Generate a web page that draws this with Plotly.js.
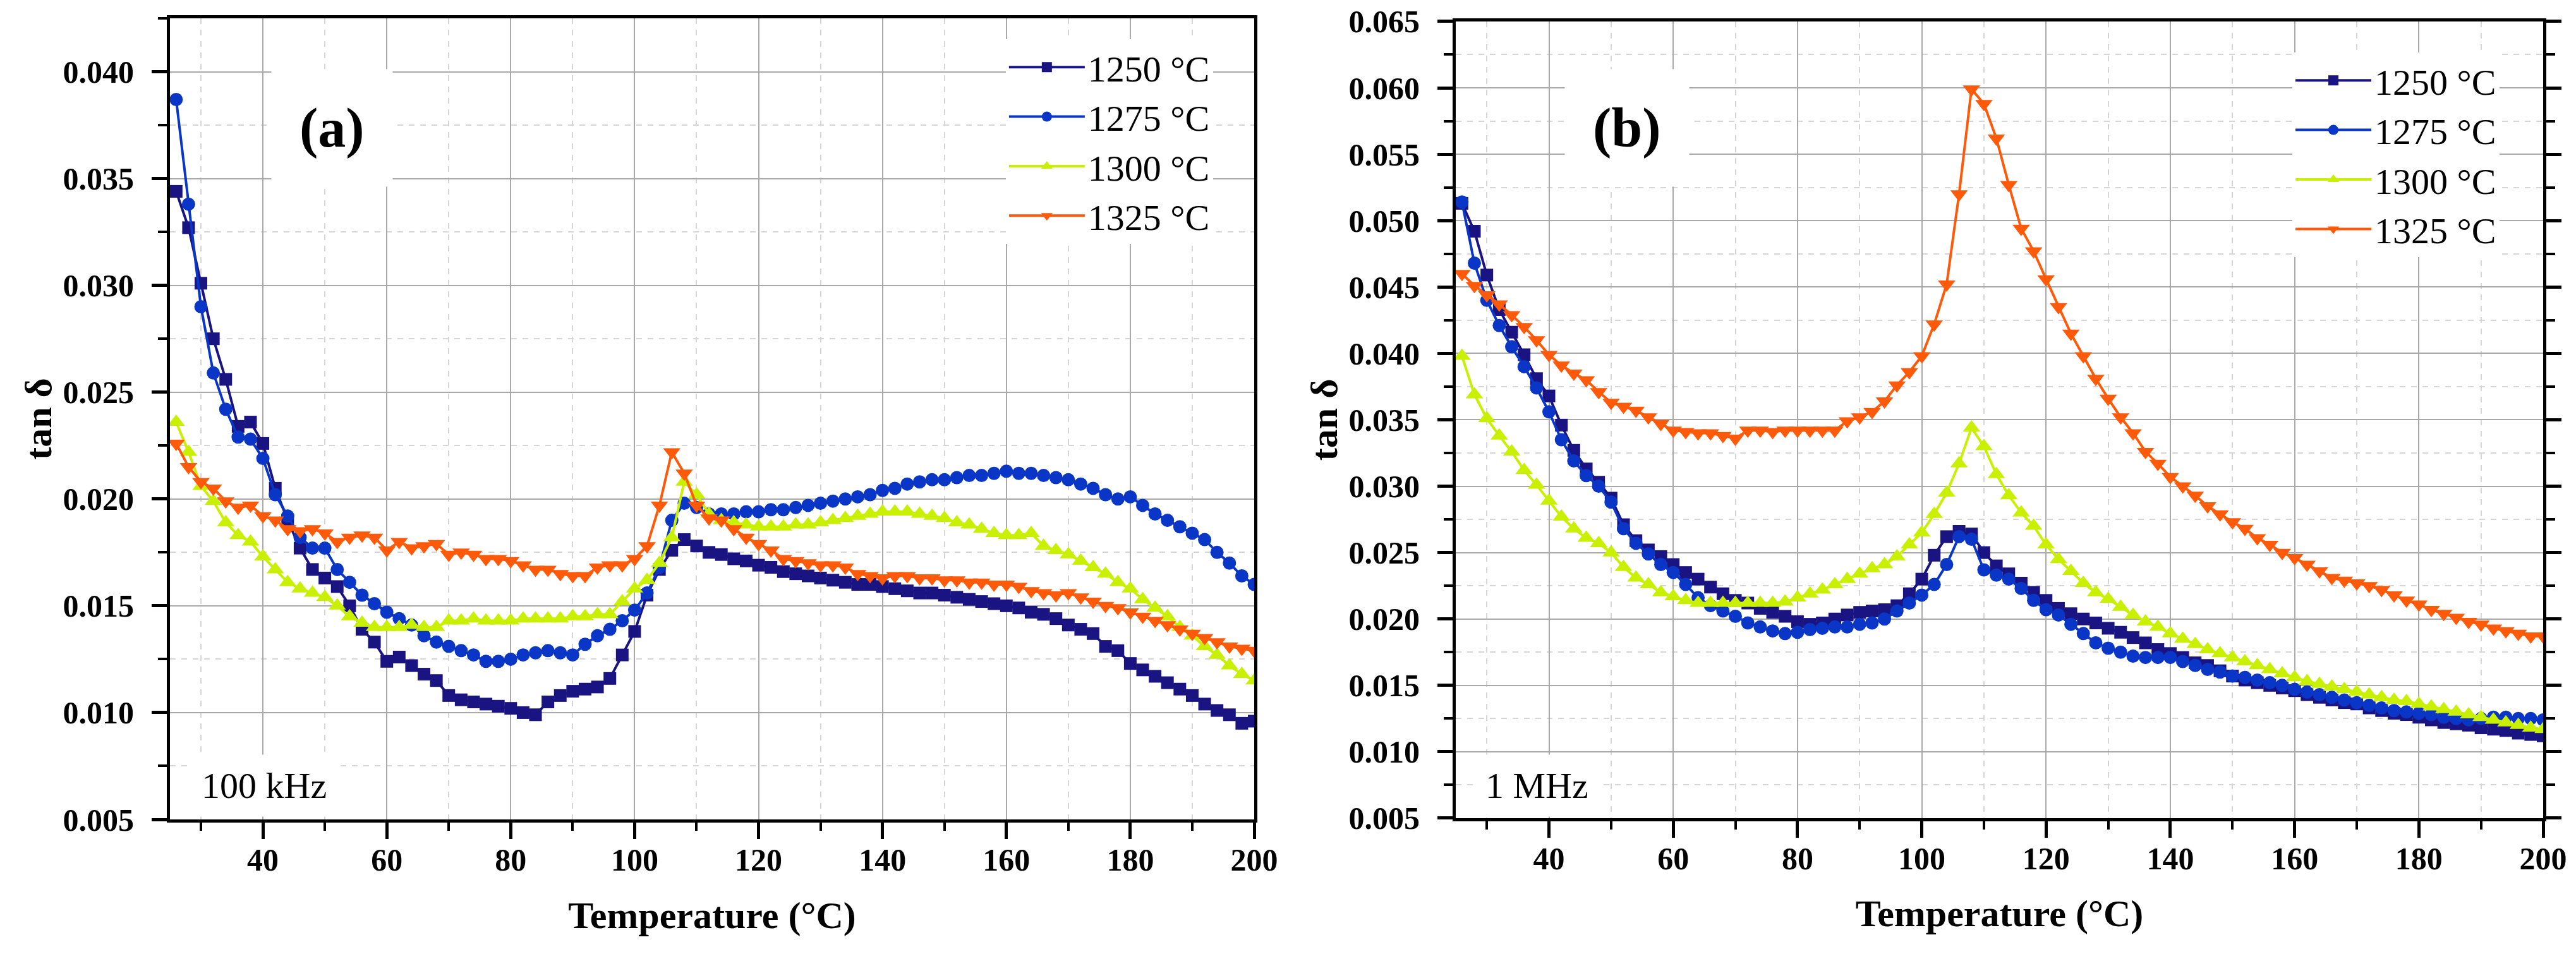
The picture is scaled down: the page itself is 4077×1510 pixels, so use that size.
<!DOCTYPE html>
<html>
<head>
<meta charset="utf-8">
<script src="https://cdn.plot.ly/plotly-3.0.1.min.js"></script>
<style>html,body{margin:0;padding:0;background:#fff;}#chart{width:4077px;height:1510px;}</style>
</head>
<body>
<div id="chart"></div>
<script>
// Temperature (°C)
const temperature = [
26,28,30,32,34,36,38,40,42,44,
46,48,50,52,54,56,58,60,62,64,
66,68,70,72,74,76,78,80,82,84,
86,88,90,92,94,96,98,100,102,104,
106,108,110,112,114,116,118,120,122,124,
126,128,130,132,134,136,138,140,142,144,
146,148,150,152,154,156,158,160,162,164,
166,168,170,172,174,176,178,180,182,184,
186,188,190,192,194,196,198,200];

const seriesNames = ['1250 °C', '1275 °C', '1300 °C', '1325 °C'];

// (a) 100 kHz
const tanD_100kHz_1250 = [
0.0344,0.0327,0.0301,0.0275,0.0256,0.0234,0.0236,0.0226,0.0205,0.0190,
0.0177,0.0167,0.0163,0.0159,0.0150,0.0139,0.0133,0.0124,0.0126,0.0122,
0.0118,0.0115,0.0108,0.0106,0.0105,0.0104,0.0103,0.0102,0.0100,0.0099,
0.0105,0.0108,0.0110,0.0111,0.0112,0.0116,0.0127,0.0138,0.0155,0.0167,
0.0176,0.0181,0.0178,0.0175,0.0174,0.0172,0.0171,0.0169,0.0168,0.0166,
0.0165,0.0164,0.0163,0.0162,0.0161,0.0160,0.0160,0.0159,0.0158,0.0157,
0.0156,0.0156,0.0155,0.0154,0.0153,0.0152,0.0151,0.0150,0.0149,0.0147,
0.0146,0.0144,0.0141,0.0139,0.0137,0.0131,0.0129,0.0123,0.0120,0.0117,
0.0114,0.0111,0.0108,0.0104,0.0101,0.0099,0.0095,0.0096];
const tanD_100kHz_1275 = [
0.0387,0.0338,0.0290,0.0259,0.0242,0.0229,0.0228,0.0219,0.0202,0.0192,
0.0182,0.0177,0.0177,0.0167,0.0161,0.0155,0.0151,0.0147,0.0144,0.0141,
0.0136,0.0133,0.0131,0.0129,0.0127,0.0124,0.0124,0.0125,0.0127,0.0128,
0.0129,0.0128,0.0127,0.0132,0.0136,0.0139,0.0143,0.0148,0.0156,0.0168,
0.0190,0.0198,0.0196,0.0193,0.0193,0.0193,0.0194,0.0194,0.0195,0.0195,
0.0196,0.0197,0.0198,0.0199,0.0200,0.0201,0.0202,0.0204,0.0205,0.0207,
0.0208,0.0209,0.0209,0.0210,0.0211,0.0211,0.0212,0.0213,0.0212,0.0212,
0.0211,0.0210,0.0209,0.0207,0.0205,0.0202,0.0200,0.0201,0.0197,0.0193,
0.0190,0.0187,0.0184,0.0181,0.0175,0.0170,0.0164,0.0160];
const tanD_100kHz_1300 = [
0.0236,0.0222,0.0206,0.0199,0.0189,0.0183,0.0180,0.0173,0.0167,0.0161,
0.0158,0.0156,0.0154,0.0150,0.0145,0.0142,0.0140,0.0140,0.0140,0.0141,
0.0140,0.0140,0.0143,0.0143,0.0144,0.0143,0.0143,0.0143,0.0144,0.0144,
0.0144,0.0144,0.0145,0.0145,0.0146,0.0146,0.0152,0.0158,0.0162,0.0170,
0.0182,0.0208,0.0202,0.0193,0.0190,0.0189,0.0188,0.0187,0.0187,0.0187,
0.0188,0.0188,0.0189,0.0190,0.0191,0.0192,0.0193,0.0194,0.0194,0.0194,
0.0193,0.0192,0.0191,0.0189,0.0188,0.0186,0.0184,0.0183,0.0183,0.0184,
0.0178,0.0176,0.0174,0.0171,0.0168,0.0165,0.0161,0.0158,0.0153,0.0149,
0.0145,0.0140,0.0136,0.0131,0.0127,0.0122,0.0118,0.0115];
const tanD_100kHz_1325 = [
0.0226,0.0215,0.0208,0.0205,0.0199,0.0196,0.0197,0.0192,0.0190,0.0186,
0.0185,0.0186,0.0184,0.0180,0.0182,0.0183,0.0182,0.0176,0.0180,0.0177,
0.0178,0.0179,0.0174,0.0175,0.0174,0.0172,0.0172,0.0171,0.0169,0.0167,
0.0167,0.0165,0.0164,0.0164,0.0168,0.0169,0.0169,0.0172,0.0178,0.0197,
0.0222,0.0212,0.0197,0.0191,0.0190,0.0186,0.0182,0.0179,0.0176,0.0172,
0.0171,0.0170,0.0169,0.0169,0.0168,0.0165,0.0164,0.0163,0.0164,0.0164,
0.0163,0.0163,0.0162,0.0162,0.0161,0.0161,0.0160,0.0160,0.0159,0.0157,
0.0156,0.0155,0.0156,0.0154,0.0152,0.0150,0.0149,0.0147,0.0145,0.0143,
0.0141,0.0139,0.0137,0.0135,0.0133,0.0131,0.0130,0.0129];

// (b) 1 MHz
const tanD_1MHz_1250 = [
0.0513,0.0492,0.0459,0.0433,0.0416,0.0399,0.0381,0.0368,0.0346,0.0327,
0.0313,0.0303,0.0291,0.0271,0.0259,0.0252,0.0247,0.0241,0.0235,0.0230,
0.0224,0.0219,0.0214,0.0212,0.0208,0.0205,0.0202,0.0198,0.0196,0.0197,
0.0200,0.0203,0.0205,0.0206,0.0207,0.0210,0.0219,0.0230,0.0248,0.0262,
0.0266,0.0264,0.0250,0.0240,0.0234,0.0227,0.0220,0.0214,0.0208,0.0204,
0.0200,0.0197,0.0193,0.0190,0.0186,0.0182,0.0177,0.0174,0.0171,0.0167,
0.0165,0.0161,0.0157,0.0154,0.0152,0.0150,0.0148,0.0146,0.0143,0.0141,
0.0139,0.0137,0.0136,0.0133,0.0131,0.0129,0.0128,0.0126,0.0124,0.0122,
0.0121,0.0120,0.0118,0.0117,0.0116,0.0114,0.0113,0.0112];
const tanD_1MHz_1275 = [
0.0514,0.0468,0.0440,0.0421,0.0405,0.0390,0.0374,0.0356,0.0335,0.0319,
0.0308,0.0300,0.0288,0.0268,0.0257,0.0249,0.0241,0.0235,0.0226,0.0216,
0.0210,0.0206,0.0202,0.0197,0.0194,0.0191,0.0189,0.0190,0.0192,0.0193,
0.0194,0.0194,0.0196,0.0197,0.0200,0.0206,0.0212,0.0218,0.0226,0.0241,
0.0262,0.0260,0.0237,0.0233,0.0230,0.0223,0.0214,0.0207,0.0203,0.0196,
0.0189,0.0182,0.0178,0.0175,0.0172,0.0171,0.0171,0.0171,0.0168,0.0165,
0.0162,0.0160,0.0157,0.0156,0.0154,0.0152,0.0150,0.0147,0.0145,0.0143,
0.0141,0.0139,0.0137,0.0135,0.0133,0.0131,0.0130,0.0129,0.0128,0.0126,
0.0125,0.0124,0.0125,0.0126,0.0126,0.0125,0.0125,0.0124];
const tanD_1MHz_1300 = [
0.0398,0.0369,0.0351,0.0338,0.0326,0.0312,0.0301,0.0289,0.0277,0.0268,
0.0261,0.0257,0.0250,0.0239,0.0231,0.0226,0.0220,0.0217,0.0214,0.0212,
0.0212,0.0212,0.0212,0.0212,0.0212,0.0212,0.0213,0.0216,0.0219,0.0222,
0.0226,0.0230,0.0234,0.0238,0.0241,0.0247,0.0256,0.0265,0.0279,0.0295,
0.0317,0.0344,0.0330,0.0309,0.0293,0.0280,0.0270,0.0256,0.0245,0.0236,
0.0227,0.0220,0.0215,0.0209,0.0203,0.0198,0.0194,0.0189,0.0185,0.0181,
0.0177,0.0174,0.0171,0.0168,0.0165,0.0162,0.0159,0.0156,0.0153,0.0151,
0.0149,0.0147,0.0145,0.0143,0.0141,0.0139,0.0138,0.0136,0.0134,0.0132,
0.0130,0.0128,0.0126,0.0124,0.0122,0.0120,0.0118,0.0117];
const tanD_1MHz_1325 = [
0.0460,0.0451,0.0444,0.0437,0.0429,0.0420,0.0410,0.0399,0.0391,0.0385,
0.0380,0.0371,0.0363,0.0360,0.0357,0.0352,0.0347,0.0342,0.0341,0.0340,
0.0340,0.0338,0.0336,0.0342,0.0342,0.0341,0.0342,0.0342,0.0342,0.0342,
0.0342,0.0349,0.0352,0.0356,0.0364,0.0376,0.0386,0.0398,0.0422,0.0452,
0.0520,0.0599,0.0588,0.0562,0.0527,0.0494,0.0477,0.0456,0.0435,0.0415,
0.0398,0.0381,0.0366,0.0352,0.0340,0.0326,0.0317,0.0307,0.0300,0.0293,
0.0285,0.0279,0.0273,0.0268,0.0261,0.0256,0.0250,0.0246,0.0241,0.0236,
0.0231,0.0229,0.0227,0.0225,0.0222,0.0218,0.0214,0.0211,0.0207,0.0204,
0.0201,0.0198,0.0196,0.0193,0.0191,0.0189,0.0187,0.0187];

const panelA = [tanD_100kHz_1250, tanD_100kHz_1275, tanD_100kHz_1300, tanD_100kHz_1325];
const panelB = [tanD_1MHz_1250, tanD_1MHz_1275, tanD_1MHz_1300, tanD_1MHz_1325];

const colors = ['#1a1482', '#0a36c8', '#c8f000', '#ff5a0a'];
const symbols = ['square', 'circle', 'triangle-up', 'triangle-down'];
const msizes = [20, 21, 24, 24];

const SERIF = "'Liberation Serif', 'Times New Roman', serif";

const traces = [];
function addPanel(values, xa, ya, legendId) {
  values.forEach((v, i) => {
    traces.push({
      type: 'scatter', mode: 'lines+markers',
      x: temperature, y: v, name: seriesNames[i],
      xaxis: xa, yaxis: ya, legend: legendId,
      line: {color: colors[i], width: 4},
      marker: {symbol: symbols[i], size: msizes[i], color: colors[i], line: {width: 0}},
      cliponaxis: true
    });
  });
}
addPanel(panelA, 'x', 'y', 'legend');
addPanel(panelB, 'x2', 'y2', 'legend2');

const tickFont = {family: SERIF, size: 50, color: '#000', weight: 'bold'};
const titleFont = {family: SERIF, size: 60, color: '#000', weight: 'bold'};

function xAxis(domain, anchor) {
  return {
    domain: domain, anchor: anchor, range: [25, 200], tick0: 0, dtick: 20,
    ticks: 'outside', ticklen: 26, tickwidth: 5, tickcolor: '#000',
    showline: true, linecolor: '#000', linewidth: 5, mirror: true,
    showgrid: true, gridcolor: '#a9a9a9', gridwidth: 2, zeroline: false,
    tickfont: tickFont, ticklabelstandoff: -10, automargin: false,
    minor: {dtick: 10, tick0: 0, ticks: 'outside', ticklen: 13, tickwidth: 4, tickcolor: '#000',
            showgrid: true, gridcolor: '#d6d6d6', gridwidth: 2, griddash: 'dash'},
    title: {text: 'Temperature (°C)', font: titleFont, standoff: 40}
  };
}
function yAxis(domain, anchor, range, mirror) {
  return {
    domain: domain, anchor: anchor, range: range, tick0: 0.005, dtick: 0.005, tickformat: '.3f',
    ticks: 'outside', ticklen: 24, tickwidth: 5, tickcolor: '#000',
    showline: true, linecolor: '#000', linewidth: 5, mirror: mirror,
    showgrid: true, gridcolor: '#a9a9a9', gridwidth: 2, zeroline: false,
    tickfont: tickFont, ticklabelstandoff: 18, automargin: false,
    minor: {dtick: 0.0025, tick0: 0.005, ticks: 'outside', ticklen: 14, tickwidth: 4, tickcolor: '#000',
            showgrid: true, gridcolor: '#d6d6d6', gridwidth: 2, griddash: 'dash'},
    title: {text: 'tan δ', font: titleFont, standoff: 0}
  };
}
function topAxis(over, anchor) {
  return {
    overlaying: over, anchor: anchor, side: 'top', range: [25, 200], tick0: 0, dtick: 20,
    ticks: 'inside', ticklen: 24, tickwidth: 5, tickcolor: '#000', showticklabels: false,
    showline: false, showgrid: false, zeroline: false, automargin: false,
    minor: {dtick: 10, tick0: 0, ticks: 'inside', ticklen: 12, tickwidth: 4, tickcolor: '#000', showgrid: false}
  };
}

const layout = {
  width: 4077, height: 1510,
  margin: {l: 269, r: 52, t: 29, b: 213},
  paper_bgcolor: '#fff', plot_bgcolor: '#fff',
  showlegend: true,
  font: {family: SERIF, color: '#000'},
  xaxis: xAxis([0, 0.45687], 'y'),
  yaxis: yAxis([0, 1], 'x', [0.005, 0.0425], true),
  xaxis2: xAxis([0.5418, 1], 'y2'),
  yaxis2: yAxis([0.0016, 0.9961], 'x2', [0.005, 0.065], 'ticks'),
  xaxis3: topAxis('x', 'y'),
  xaxis4: topAxis('x2', 'y2'),
  yaxis3: {
    overlaying: 'y', anchor: 'x', side: 'right', range: [0.005, 0.0425], tick0: 0.005, dtick: 0.005,
    ticks: 'inside', ticklen: 14, tickwidth: 5, tickcolor: '#000', showticklabels: false,
    showline: false, showgrid: false, zeroline: false, automargin: false,
    minor: {dtick: 0.0025, tick0: 0.005, ticks: 'inside', ticklen: 12, tickwidth: 4, tickcolor: '#000', showgrid: false}
  },
  legend: {
    x: 0.3522, y: 0.974, xanchor: 'left', yanchor: 'top',
    bgcolor: '#fff', borderwidth: 0, itemwidth: 120,
    font: {family: SERIF, size: 58, color: '#000'}, tracegroupgap: 0
  },
  legend2: {
    x: 0.8943, y: 0.9574, xanchor: 'left', yanchor: 'top',
    bgcolor: '#fff', borderwidth: 0, itemwidth: 120,
    font: {family: SERIF, size: 58, color: '#000'}, tracegroupgap: 0
  },
  annotations: [
    {text: '(a)', xref: 'paper', yref: 'paper', x: 0.06816, y: 0.8628, xanchor: 'center', yanchor: 'middle',
     showarrow: false, bgcolor: '#fff', borderpad: 44, font: {family: SERIF, size: 88, color: '#000', weight: 'bold'}},
    {text: '(b)', xref: 'paper', yref: 'paper', x: 0.61395, y: 0.8628, xanchor: 'center', yanchor: 'middle',
     showarrow: false, bgcolor: '#fff', borderpad: 44, font: {family: SERIF, size: 88, color: '#000', weight: 'bold'}},
    {text: '100 kHz', xref: 'paper', yref: 'paper', x: 0.03967, y: 0.0418, xanchor: 'center', yanchor: 'middle',
     showarrow: false, bgcolor: '#fff', borderpad: 16, font: {family: SERIF, size: 58, color: '#000'}},
    {text: '1 MHz', xref: 'paper', yref: 'paper', x: 0.57588, y: 0.0418, xanchor: 'center', yanchor: 'middle',
     showarrow: false, bgcolor: '#fff', borderpad: 16, font: {family: SERIF, size: 58, color: '#000'}}
  ]
};

Plotly.newPlot('chart', traces, layout, {staticPlot: true, displayModeBar: false});
</script>
</body>
</html>
